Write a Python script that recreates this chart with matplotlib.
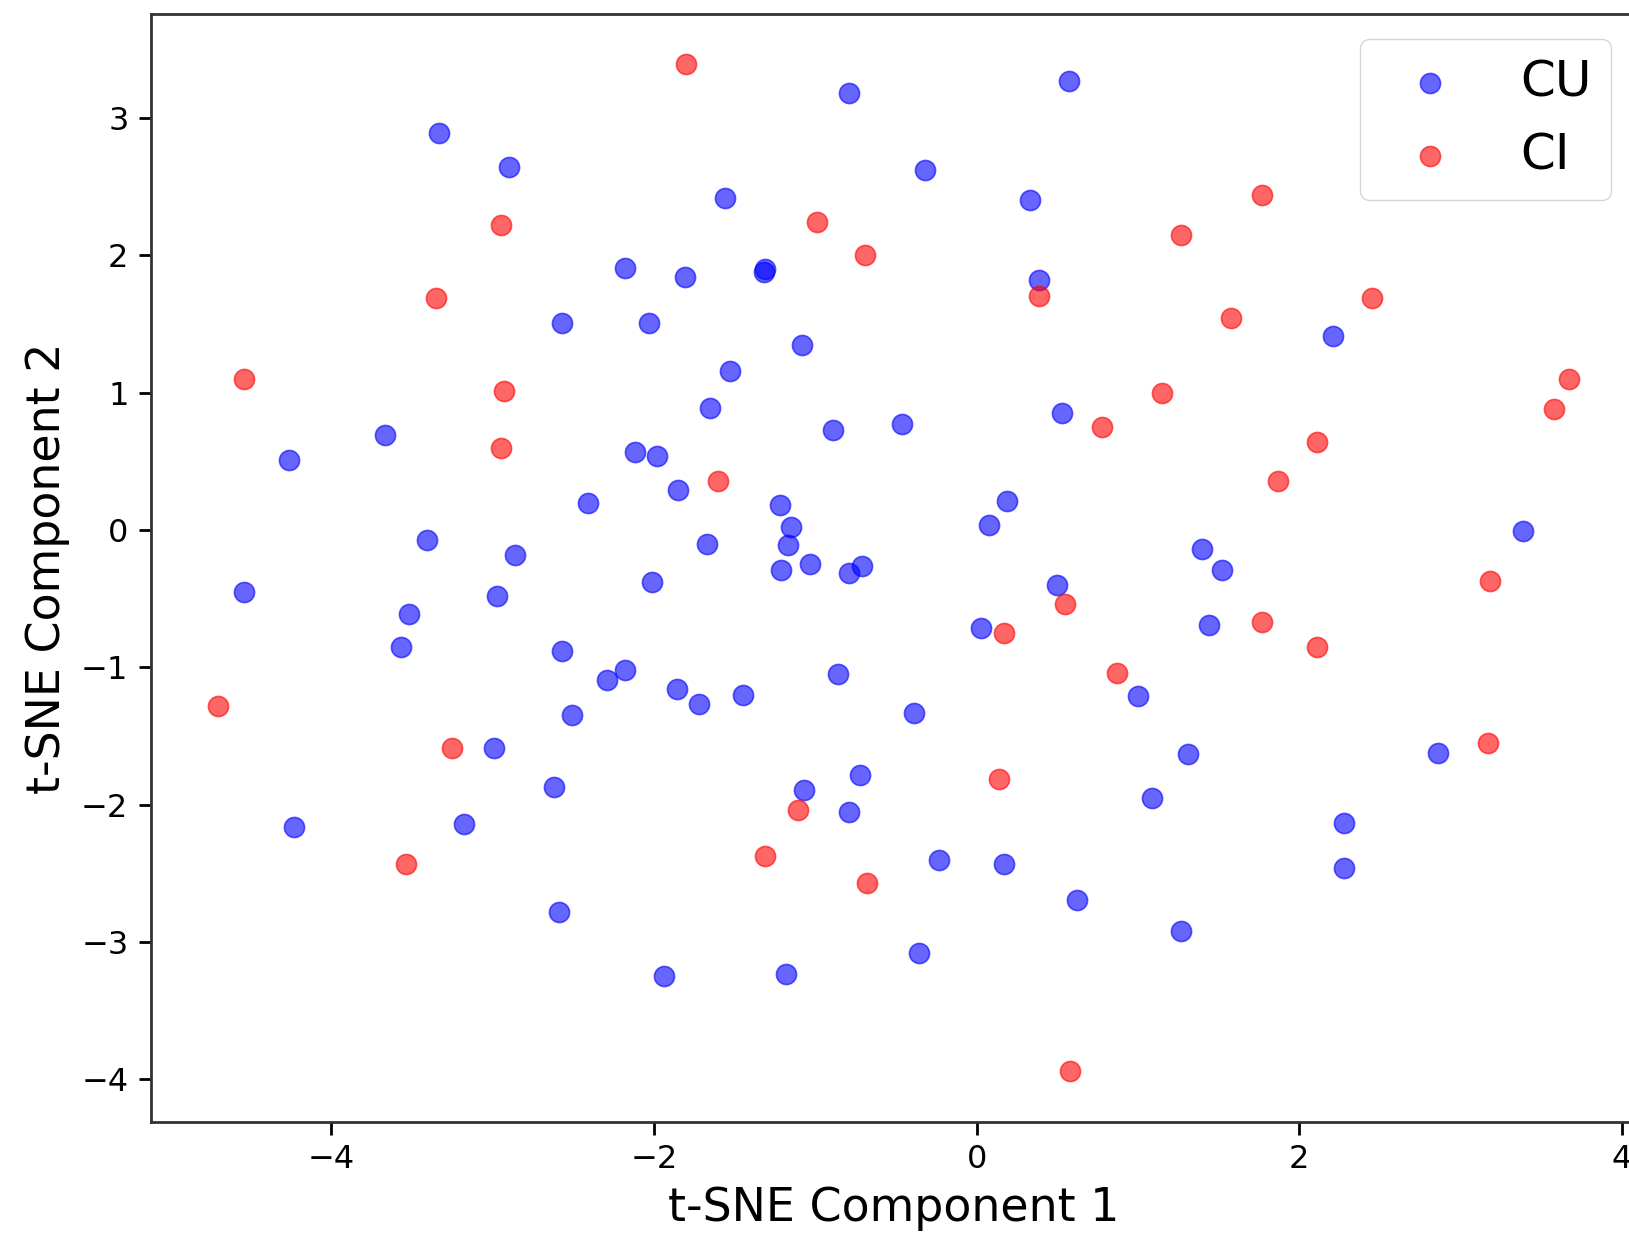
import matplotlib
matplotlib.use("Agg")
import matplotlib.pyplot as plt

# t-SNE embedding
cu_x = [0.57, -0.79, -3.33, -2.90, -0.32, -1.56, 0.33, -2.18, -1.81, -1.31,
        -1.32, 0.39, -2.57, -2.03, -1.08, 2.21, -1.53, -1.65, 0.53, -3.67,
        -0.89, -0.46, -4.26, -2.12, -1.98, -1.85, -2.41, -1.22, -1.15, -1.17,
        -1.67, 0.08, 0.19, 3.39, -3.41, -2.86, -1.21, -1.03, -0.79, -0.71,
        1.40, 1.52, -4.54, -2.97, -2.01, 0.50, -3.52, 0.03, 1.44, -3.57,
        -2.57, -2.18, -2.29, -0.86, -1.86, -1.72, -1.45, 1.00, -2.51, -0.39,
        -2.99, 1.31, 2.86, -2.62, -0.72, -1.07, -0.79, 1.09, -4.23, -3.18,
        2.28, -0.23, 0.17, 2.28, -2.59, 0.62, 1.27, -0.36, -1.94, -1.18]
cu_y = [3.27, 3.18, 2.89, 2.64, 2.62, 2.42, 2.40, 1.91, 1.84, 1.90,
        1.88, 1.82, 1.51, 1.51, 1.35, 1.41, 1.16, 0.89, 0.85, 0.69,
        0.73, 0.77, 0.51, 0.57, 0.54, 0.29, 0.20, 0.18, 0.02, -0.11,
        -0.10, 0.04, 0.21, -0.01, -0.07, -0.18, -0.29, -0.25, -0.31, -0.26,
        -0.14, -0.29, -0.45, -0.48, -0.38, -0.40, -0.61, -0.71, -0.69, -0.85,
        -0.88, -1.02, -1.09, -1.05, -1.16, -1.27, -1.20, -1.21, -1.35, -1.33,
        -1.59, -1.63, -1.62, -1.87, -1.78, -1.89, -2.05, -1.95, -2.16, -2.14,
        -2.13, -2.40, -2.43, -2.46, -2.78, -2.69, -2.92, -3.08, -3.25, -3.23]

ci_x = [-1.80, 1.77, -2.95, -0.99, -0.69, 1.27, -3.35, 0.39, 1.58, 2.45,
        -4.54, -2.93, 1.15, 3.67, 3.58, 0.78, -2.95, 2.11, -1.60, 1.87,
        3.18, 0.55, 0.17, 1.77, 2.11, 0.87, -4.70, -3.25, 3.17, 0.14,
        -1.11, -3.54, -1.31, -0.68, 0.58]
ci_y = [3.39, 2.44, 2.22, 2.24, 2.00, 2.15, 1.69, 1.70, 1.54, 1.69,
        1.10, 1.01, 1.00, 1.10, 0.88, 0.75, 0.60, 0.64, 0.36, 0.36,
        -0.37, -0.54, -0.75, -0.67, -0.85, -1.04, -1.28, -1.59, -1.55, -1.81,
        -2.04, -2.43, -2.37, -2.57, -3.94]

fig = plt.figure(figsize=(16.29, 12.42), dpi=100)
ax = fig.add_axes([0.0925, 0.0966, 0.912, 0.8925])

ax.scatter(cu_x, cu_y, c='blue', alpha=0.6, s=210, linewidths=1.2, label='CU')
ax.scatter(ci_x, ci_y, c='red', alpha=0.6, s=210, linewidths=1.2, label='CI')

ax.set_xlim(-5.12, 4.09)
ax.set_ylim(-4.31, 3.76)
ax.set_xticks([-4, -2, 0, 2, 4])
ax.set_yticks([-4, -3, -2, -1, 0, 1, 2, 3])

ax.set_xlabel("t-SNE Component 1", fontsize=33, labelpad=8)
ax.set_ylabel("t-SNE Component 2", fontsize=33, labelpad=8)
ax.tick_params(labelsize=23, length=9, width=2, pad=7)
for sp in ax.spines.values():
    sp.set_linewidth(2)
    sp.set_color('#333333')

ax.legend(loc='upper right', fontsize=36)

fig.savefig("out.png", dpi=100)
plt.close(fig)
